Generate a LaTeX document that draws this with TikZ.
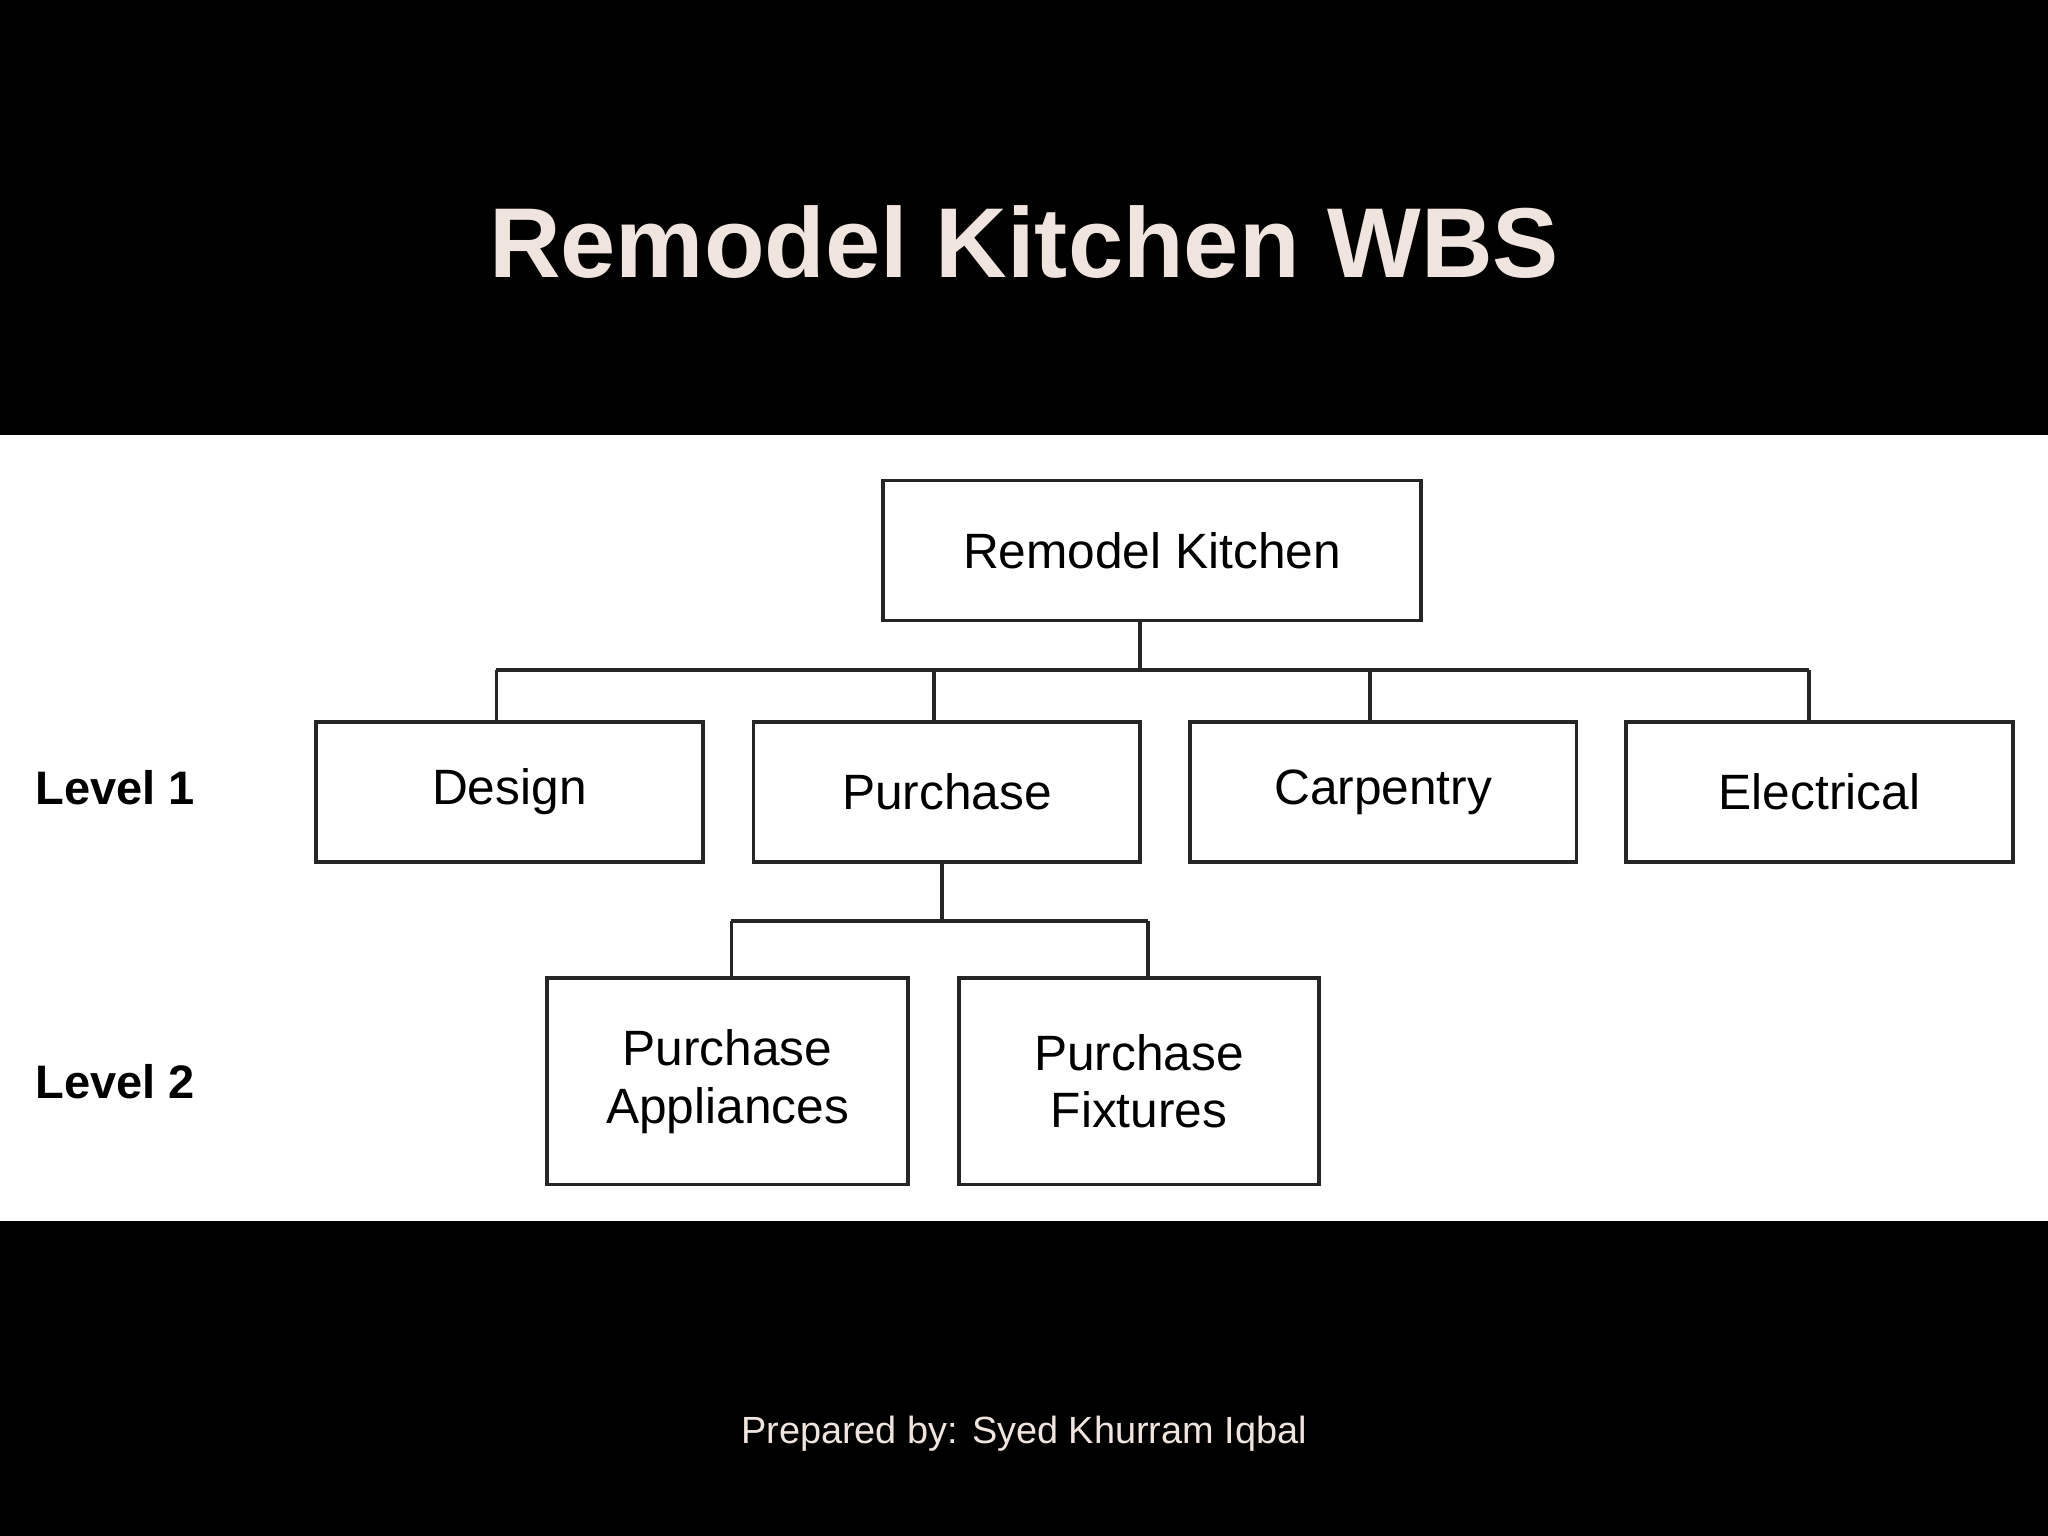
\documentclass[tikz,border=0pt]{standalone}
\usepackage{fontspec}
\setmainfont{Liberation Sans}
\definecolor{titlec}{RGB}{240,228,222}
\begin{document}
\begin{tikzpicture}[x=0.5pt,y=-0.5pt,
  box/.style={draw=black!85,line width=1.4pt,fill=white,inner sep=0pt,font=\fontsize{19}{22}\selectfont,align=center},
  conn/.style={draw=black!85,line width=1.4pt},
  lvl/.style={anchor=west,font=\bfseries\fontsize{18}{21}\selectfont}]
\fill[black] (0,0) rectangle (1568,1176);
\fill[white] (0,333) rectangle (1568,935);
\useasboundingbox (0,0) rectangle (1568,1176);
\node[text=titlec,font=\bfseries\fontsize{38}{44}\selectfont] (title) at (784,185) {Remodel Kitchen WBS};
\node[box,minimum width=206pt,minimum height=53.5pt] (root) at (882,421.5) {Remodel Kitchen};
\node[box,minimum width=148pt,minimum height=53.5pt] (d) at (390,606.5) {Design};
\node[box,minimum width=148pt,minimum height=53.5pt] (p) at (725,606.5) {Purchase};
\node[box,minimum width=148pt,minimum height=53.5pt] (c) at (1059,606.5) {Carpentry};
\node[box,minimum width=148pt,minimum height=53.5pt] (e) at (1393,606.5) {Electrical};
\node[box,minimum width=138pt,minimum height=79pt] (pa) at (557,828) {Purchase\\Appliances};
\node[box,minimum width=138pt,minimum height=79pt] (pf) at (872,828) {Purchase\\Fixtures};
\node[lvl] (l1) at (20,603) {Level 1};
\node[lvl] (l2) at (20,828) {Level 2};
\node[text=titlec,font=\fontsize{14.5}{17}\selectfont] (foot) at (784,1098) {Prepared by: Syed Khurram Iqbal};
\coordinate (b0) at (873,513);
\path[conn] (root.south -| b0) -- (b0);
\path[conn] (380,513) -- (1385,513);
\path[conn] (380,513) -- (d.north -| 380,0);
\path[conn] (715,513) -- (p.north -| 715,0);
\path[conn] (1049,513) -- (c.north -| 1049,0);
\path[conn] (1385,513) -- (e.north -| 1385,0);
\path[conn] (p.south -| 721,0) -- (721,705);
\path[conn] (560,705) -- (879,705);
\path[conn] (560,705) -- (pa.north -| 560,0);
\path[conn] (879,705) -- (pf.north -| 879,0);
\end{tikzpicture}
\end{document}
